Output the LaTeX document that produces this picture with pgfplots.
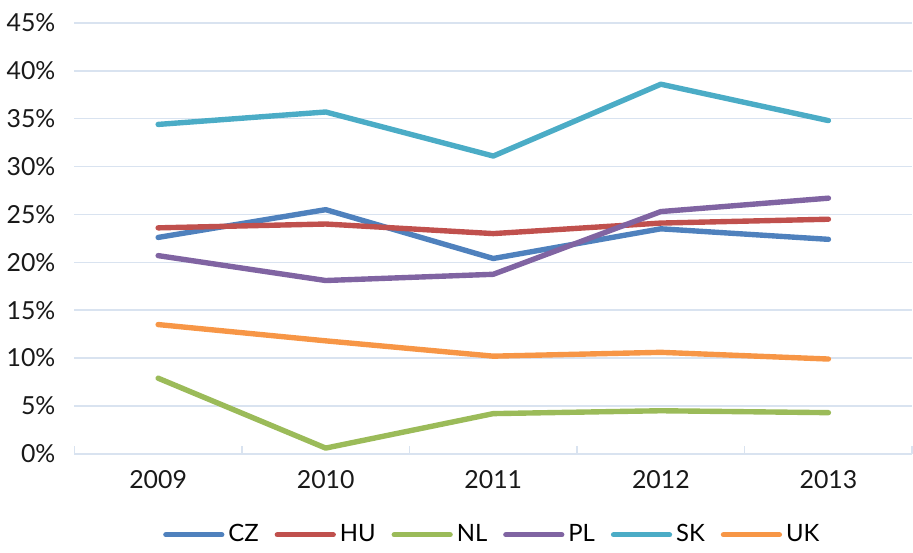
\documentclass[border=0pt]{standalone}
\usepackage{fontspec}
\setmainfont{Lato}
\usepackage{pgfplots}
\pgfplotsset{compat=1.18}
\definecolor{cz}{HTML}{4F81BD}
\definecolor{hu}{HTML}{C0504D}
\definecolor{nl}{HTML}{9BBB59}
\definecolor{pl}{HTML}{8064A2}
\definecolor{sk}{HTML}{4BACC6}
\definecolor{uk}{HTML}{F79646}
\definecolor{gridc}{HTML}{D9E3F0}

\begin{document}
\begin{tikzpicture}
\begin{axis}[
  name=main,
  scale only axis,
  width=420bp, height=216bp,
  xmin=-0.5, xmax=4.5,
  ymin=0, ymax=45,
  xtick={0,1,2,3,4},
  xticklabels={2009,2010,2011,2012,2013},
  minor xtick={-0.5,0.5,1.5,2.5,3.5,4.5},
  major tick length=0pt,
  minor tick length=4bp,
  xtick pos=bottom,
  ytick pos=left,
  every minor tick/.style={gridc, line width=0.8pt},
  ytick={0,5,...,45},
  yticklabel={\pgfmathprintnumber{\tick}\%},
  /pgf/number format/assume math mode=true,
  ymajorgrids=true,
  grid style={gridc, line width=0.8pt},
  axis x line*=bottom,
  axis y line*=left,
  x axis line style={draw=gridc, line width=0.8pt},
  y axis line style={draw=none},
  ticklabel style={font=\fontsize{12.5}{14}\selectfont, text=black!90},
  yticklabel style={xshift=-6bp},
  xticklabel style={yshift=-5bp},
  legend style={draw=none, at={(0.5,-0.145)}, anchor=north,
    legend columns=6, font=\fontsize{12}{14}\selectfont,
    /tikz/every even column/.append style={column sep=6bp}},
  legend image code/.code={\draw[#1, line cap=round] (0cm,0cm) -- (28bp,0cm);},
  every axis plot/.append style={line width=2.7bp, line join=round, line cap=round},
]
\addplot[cz] coordinates {(0,22.6) (1,25.5) (2,20.4) (3,23.5) (4,22.4)};
\addlegendentry{CZ}
\addplot[hu] coordinates {(0,23.6) (1,24.0) (2,23.0) (3,24.1) (4,24.5)};
\addlegendentry{HU}
\addplot[nl] coordinates {(0,7.9) (1,0.6) (2,4.2) (3,4.5) (4,4.3)};
\addlegendentry{NL}
\addplot[pl] coordinates {(0,20.7) (1,18.1) (2,18.75) (3,25.3) (4,26.7)};
\addlegendentry{PL}
\addplot[sk] coordinates {(0,34.4) (1,35.7) (2,31.1) (3,38.6) (4,34.8)};
\addlegendentry{SK}
\addplot[uk] coordinates {(0,13.5) (1,11.8) (2,10.2) (3,10.6) (4,9.9)};
\addlegendentry{UK}
\end{axis}
\path (main.north) ++(0,11.5bp);
\path (main.south) ++(0,-45bp);
\end{tikzpicture}
\end{document}
